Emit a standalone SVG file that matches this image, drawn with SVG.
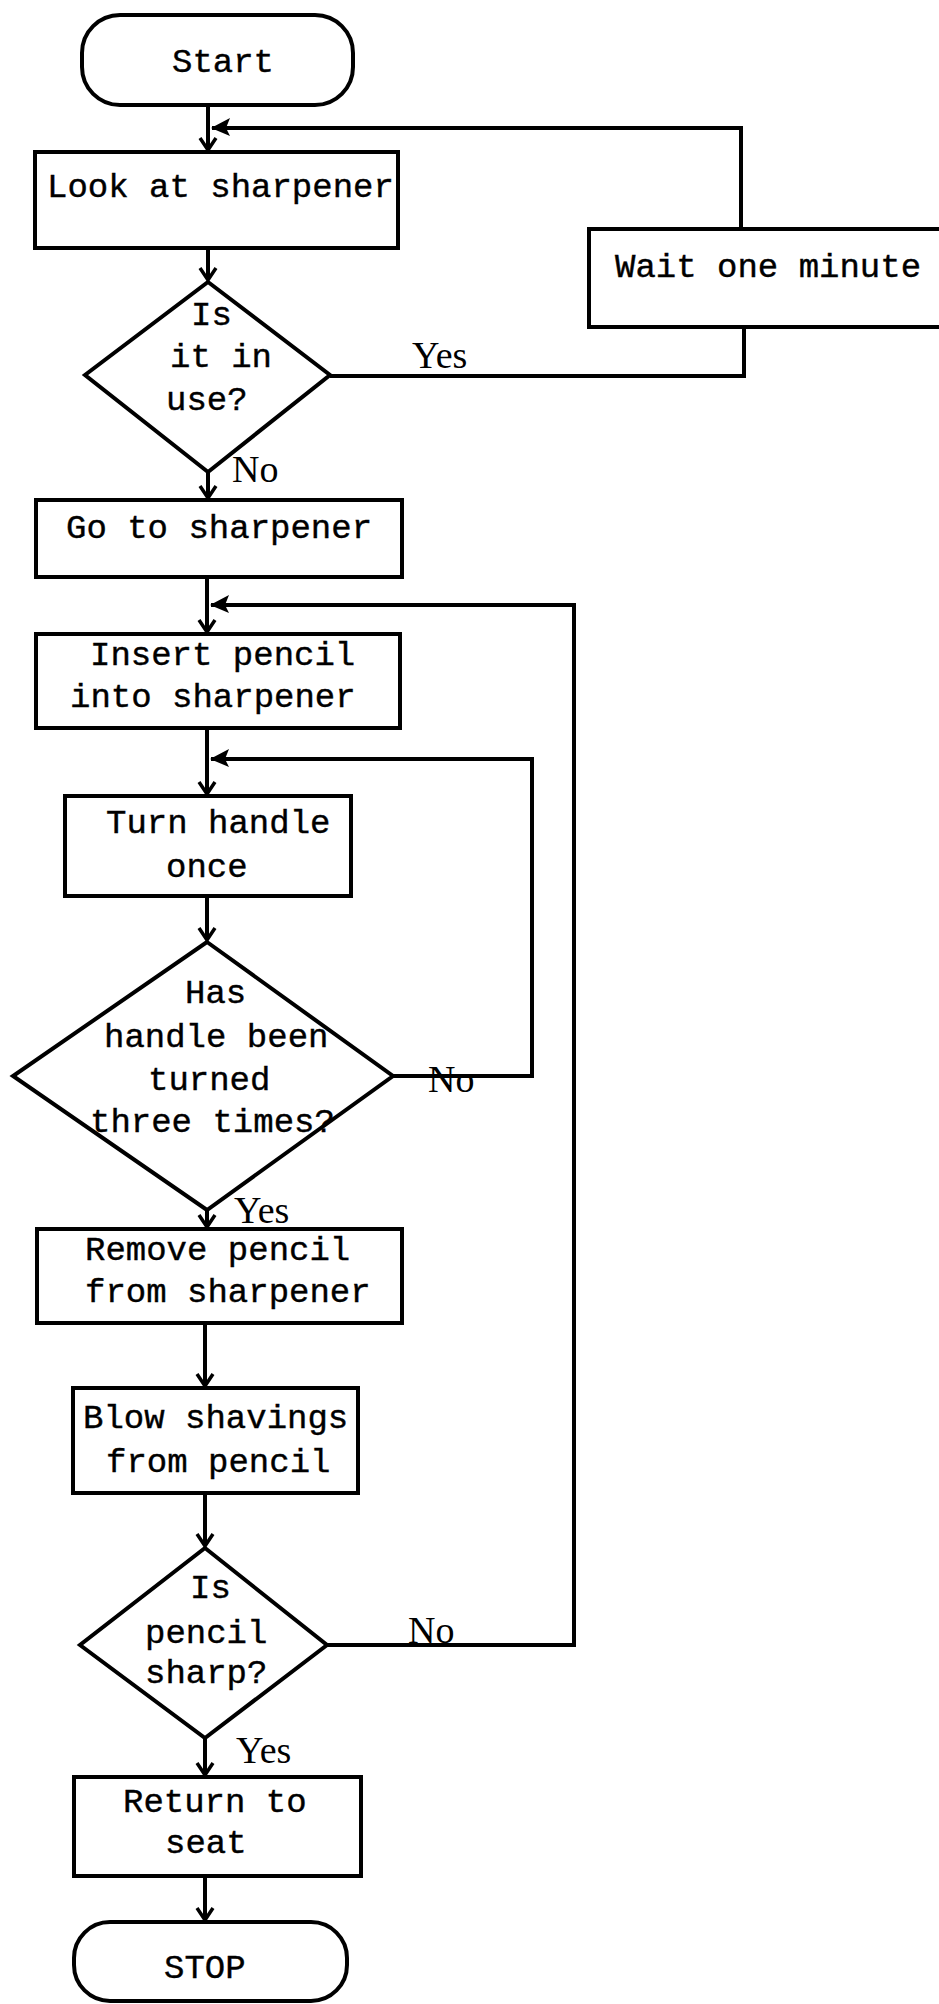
<svg xmlns="http://www.w3.org/2000/svg" width="939" height="2004" viewBox="0 0 939 2004">
<defs>
<style>
.shape{fill:#fff;stroke:#000;stroke-width:4;stroke-linejoin:miter}
.line{fill:none;stroke:#000;stroke-width:4}
.t{font-family:"Liberation Mono","DejaVu Sans Mono",monospace;font-size:34px;fill:#000;stroke:#000;stroke-width:0.4}
.lbl{font-family:"Liberation Serif","Times New Roman",serif;font-size:38px;fill:#000}
.ah{fill:#000}
</style>
<marker id="down" viewBox="-14 -10 16 20" markerWidth="16" markerHeight="20" refX="0" refY="0" orient="auto" markerUnits="userSpaceOnUse">
<path d="M-12,-8 L0,0 L-12,8" fill="none" stroke="#000" stroke-width="3.5"/>
</marker>
</defs>
<rect width="939" height="2004" fill="#fff"/>

<g id="connectors">
<path class="line" d="M208,105 V150" marker-end="url(#down)"/>
<path class="line" d="M741,229 V128 H212"/>
<path class="ah" d="M211,128 L230,118 L226,128 L230,136 Z"/>
<path class="line" d="M208,248 V280" marker-end="url(#down)"/>
<path class="line" d="M330,376 H744 V327"/>
<path class="line" d="M208,472 V498" marker-end="url(#down)"/>
<path class="line" d="M207,577 V632" marker-end="url(#down)"/>
<path class="line" d="M327,1645 H574 V605 H211"/>
<path class="ah" d="M210,605 L229,595 L225,605 L229,613 Z"/>
<path class="line" d="M207,728 V794" marker-end="url(#down)"/>
<path class="line" d="M393,1076 H532 V759 H211"/>
<path class="ah" d="M210,759 L229,749 L225,759 L229,767 Z"/>
<path class="line" d="M207,896 V940" marker-end="url(#down)"/>
<path class="line" d="M207,1210 V1227" marker-end="url(#down)"/>
<path class="line" d="M205,1323 V1386" marker-end="url(#down)"/>
<path class="line" d="M205,1493 V1546" marker-end="url(#down)"/>
<path class="line" d="M205,1738 V1775" marker-end="url(#down)"/>
<path class="line" d="M205,1876 V1920" marker-end="url(#down)"/>
<text class="lbl" x="412" y="368">Yes</text>
<text class="lbl" x="232" y="482">No</text>
<text class="lbl" x="428" y="1092">No</text>
<text class="lbl" x="234" y="1223">Yes</text>
<text class="lbl" x="408" y="1643">No</text>
<text class="lbl" x="236" y="1763">Yes</text>
</g>

<g id="start">
<rect class="shape" x="82" y="15" width="271" height="90" rx="38" ry="38"/>
<text class="t" x="172" y="72">Start</text>
</g>

<g id="look">
<rect class="shape" x="35" y="152" width="363" height="96"/>
<text class="t" x="47" y="197">Look at sharpener</text>
</g>

<g id="wait">
<rect class="shape" x="589" y="229" width="360" height="98"/>
<text class="t" x="615" y="277">Wait one minute</text>
</g>

<g id="inuse">
<polygon class="shape" points="208,282 330,375 208,472 85,375"/>
<text class="t" x="191" y="325">Is</text>
<text class="t" x="170" y="367">it in</text>
<text class="t" x="166" y="410">use?</text>
</g>

<g id="goto">
<rect class="shape" x="36" y="500" width="366" height="77"/>
<text class="t" x="66" y="538">Go to sharpener</text>
</g>

<g id="insert">
<rect class="shape" x="36" y="634" width="364" height="94"/>
<text class="t" x="90" y="665">Insert pencil</text>
<text class="t" x="70" y="707">into sharpener</text>
</g>

<g id="turn">
<rect class="shape" x="65" y="796" width="286" height="100"/>
<text class="t" x="106" y="833">Turn handle</text>
<text class="t" x="166" y="877">once</text>
</g>

<g id="three">
<polygon class="shape" points="207,942 393,1076 207,1210 13,1076"/>
<text class="t" x="185" y="1003">Has</text>
<text class="t" x="104" y="1047">handle been</text>
<text class="t" x="148" y="1090">turned</text>
<text class="t" x="90" y="1132">three times?</text>
</g>

<g id="remove">
<rect class="shape" x="37" y="1229" width="365" height="94"/>
<text class="t" x="85" y="1260">Remove pencil</text>
<text class="t" x="85" y="1302">from sharpener</text>
</g>

<g id="blow">
<rect class="shape" x="73" y="1388" width="285" height="105"/>
<text class="t" x="83" y="1428">Blow shavings</text>
<text class="t" x="106" y="1472">from pencil</text>
</g>

<g id="sharp">
<polygon class="shape" points="205,1548 327,1645 205,1738 80,1645"/>
<text class="t" x="190" y="1598">Is</text>
<text class="t" x="145" y="1643">pencil</text>
<text class="t" x="145" y="1683">sharp?</text>
</g>

<g id="return">
<rect class="shape" x="74" y="1777" width="287" height="99"/>
<text class="t" x="123" y="1812">Return to</text>
<text class="t" x="165" y="1853">seat</text>
</g>

<g id="stop">
<rect class="shape" x="74" y="1922" width="273" height="79" rx="36" ry="36"/>
<text class="t" x="164" y="1978">STOP</text>
</g>
</svg>
